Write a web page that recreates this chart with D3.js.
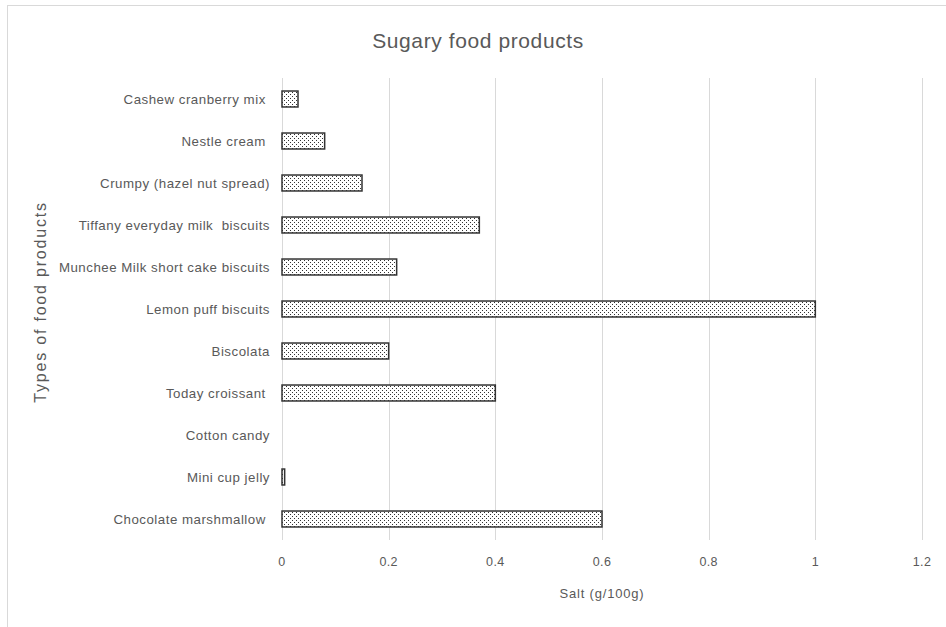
<!DOCTYPE html>
<html><head><meta charset="utf-8">
<script src="https://cdn.jsdelivr.net/npm/d3@7"></script>
<style>body{margin:0;background:#fff;} text{font-family:"Liberation Sans",Arial,sans-serif;fill:#595959;white-space:pre;}</style>
</head><body>
<svg id="chart" width="946" height="627"></svg>
<script>
const categories = ["Cashew cranberry mix ","Nestle cream ","Crumpy (hazel nut spread)","Tiffany everyday milk  biscuits","Munchee Milk short cake biscuits","Lemon puff biscuits","Biscolata","Today croissant ","Cotton candy","Mini cup jelly","Chocolate marshmallow "];
const salt = [0.03,0.08,0.15,0.37,0.215,1.0,0.2,0.4,0,0.005,0.6];
const xTicks = [0,0.2,0.4,0.6,0.8,1,1.2];
const title = "Sugary food products";
const xTitle = "Salt (g/100g)";
const yTitle = "Types of food products";

const svg = d3.select("#chart");
const m = {left:282, right:922, top:78, bottom:540};
const defs = svg.append("defs");
const pat = defs.append("pattern").attr("id","dots").attr("patternUnits","userSpaceOnUse").attr("width",4).attr("height",4);
pat.append("rect").attr("width",4).attr("height",4).attr("fill","#fff");
pat.append("rect").attr("x",0).attr("y",0).attr("width",1).attr("height",1).attr("fill","#333");
pat.append("rect").attr("x",2).attr("y",2).attr("width",1).attr("height",1).attr("fill","#333");

svg.append("rect").attr("x",7.5).attr("y",5.5).attr("width",960).attr("height",640).attr("fill","none").attr("stroke","#d9d9d9");

const x = d3.scaleLinear().domain([0,1.2]).range([m.left,m.right]);
const y = d3.scaleBand().domain(categories).range([m.top,m.bottom]).paddingInner(0.62).paddingOuter(0.31);

svg.append("g").selectAll("line").data(xTicks).join("line")
  .attr("x1",d=>Math.round(x(d))+0.5).attr("x2",d=>Math.round(x(d))+0.5)
  .attr("y1",m.top).attr("y2",m.bottom).attr("stroke","#d9d9d9").attr("stroke-width",1);

svg.append("g").selectAll("rect").data(categories).join("rect")
  .attr("x",x(0)).attr("y",(d)=>y(d))
  .attr("width",(d,i)=>x(salt[i])-x(0)).attr("height",y.bandwidth())
  .attr("fill","url(#dots)").attr("stroke",(d,i)=>salt[i]>0?"#333":"none").attr("stroke-width",1.5);

svg.append("g").selectAll("text").data(categories).join("text")
  .attr("x",270).attr("y",d=>y(d)+y.bandwidth()/2).attr("dy","0.35em")
  .attr("text-anchor","end").attr("font-size",13.3).attr("letter-spacing",0.5).text(d=>d);

svg.append("g").selectAll("text").data(xTicks).join("text")
  .attr("x",d=>x(d)).attr("y",566).attr("text-anchor","middle").attr("font-size",12.5).attr("letter-spacing",0.4).text(d=>d);

svg.append("text").attr("x",(m.left+m.right)/2).attr("y",598).attr("text-anchor","middle").attr("font-size",13).attr("letter-spacing",0.8).text(xTitle);
svg.append("text").attr("x",478).attr("y",48).attr("text-anchor","middle").attr("font-size",21).attr("letter-spacing",0.6).text(title);
svg.append("text").attr("transform","translate(46,302) rotate(-90)").attr("text-anchor","middle").attr("font-size",16).attr("letter-spacing",1.8).text(yTitle);
</script>
</body></html>
